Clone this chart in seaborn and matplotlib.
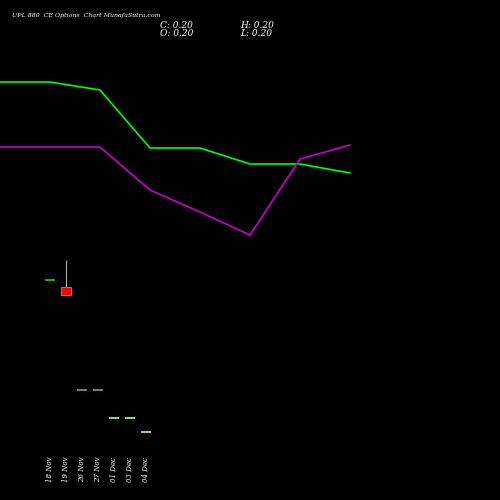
import matplotlib
matplotlib.use("Agg")
import matplotlib.pyplot as plt
import seaborn as sns
import pandas as pd

sns.set_style("dark")

# line series (screen-like units, y downward)
line_x = [0, 50, 100, 150, 200, 250, 300, 350]
green_y = [82, 82, 90, 148, 148, 164, 164, 173]
purple_y = [147, 147, 147, 190, 212, 235, 159, 145]

# candles
dates = ["18 Nov", "19 Nov", "26 Nov", "27 Nov", "01 Dec", "03 Dec", "04 Dec"]
cx = [50, 66, 82, 98, 114, 130, 146]
c_open = [280, 287, 390, 390, 418, 418, 432]
c_close = [280, 295, 390, 390, 418, 418, 432]
c_high = [280, 260, 390, 390, 418, 418, 432]
c_colors = ["#22cc22", "#ff0000", "#77aa77", "#77aa77", "#aaffaa", "#aaffaa", "#aaffaa"]

fig = plt.figure(figsize=(5, 5), dpi=100, facecolor="black")
ax = fig.add_axes([0, 0, 1, 1])
ax.set_facecolor("black")
ax.set_xlim(0, 500)
ax.set_ylim(500, 0)
ax.axis("off")

df = pd.DataFrame({"x": line_x, "g": green_y, "p": purple_y})
sns.lineplot(data=df, x="x", y="g", color="#00ff00", lw=1.2, ax=ax)
sns.lineplot(data=df, x="x", y="p", color="#cc00cc", lw=1.2, ax=ax)

for x, o, c, h, col, d in zip(cx, c_open, c_close, c_high, c_colors, dates):
    if c != o:
        ax.vlines(x, h, o, color="#aaaaaa", lw=0.8)
        ax.add_patch(plt.Rectangle((x - 5, o), 10, c - o, facecolor=col, edgecolor="#aaaaaa", lw=0.5))
    else:
        ax.hlines(o, x - 5, x + 5, color=col, lw=1.2)
    ax.text(x, 482, d, rotation=90, color="white", fontsize=5, fontfamily="DejaVu Serif",
            style="italic", ha="center", va="bottom")

ax.text(12, 15, "UPL 880  CE Options  Chart MunafaSutra.com", color="white", fontsize=4.5,
        fontfamily="DejaVu Serif", style="italic", va="center")
ax.text(160, 25, "C: 0.20", color="white", fontsize=6.5, fontfamily="DejaVu Serif", style="italic", va="center")
ax.text(240, 25, "H: 0.20", color="white", fontsize=6.5, fontfamily="DejaVu Serif", style="italic", va="center")
ax.text(160, 34, "O: 0.20", color="white", fontsize=6.5, fontfamily="DejaVu Serif", style="italic", va="center")
ax.text(240, 34, "L: 0.20", color="white", fontsize=6.5, fontfamily="DejaVu Serif", style="italic", va="center")

fig.savefig("out.png", facecolor="black")
